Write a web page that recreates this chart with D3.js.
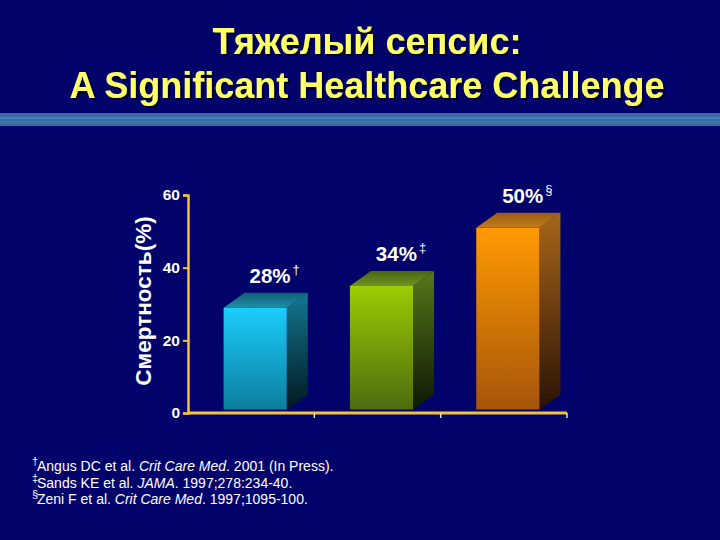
<!DOCTYPE html>
<html>
<head>
<meta charset="utf-8">
<script src="https://cdn.jsdelivr.net/npm/d3@7"></script>
<style>
  html, body { margin: 0; padding: 0; background: #02026b; }
  svg { display: block; font-family: "Liberation Sans", Arial, sans-serif; }
</style>
</head>
<body>
<div id="chart"></div>
<script>
const width = 720
const height = 540

// data
const categories = ['Angus', 'Sands', 'Zeni']
const values = [28, 34, 50]
const marks = ['\u2020', '\u2021', '\u00a7']
const yTicks = [0, 20, 40, 60]
const titleLines = ['Тяжелый сепсис:', 'A Significant Healthcare Challenge']
const yLabel = 'Смертность(%)'
const refs = [
  { mark: '\u2020', parts: [['Angus DC et al. ', false], ['Crit Care Med', true], ['. 2001 (In Press).', false]] },
  { mark: '\u2021', parts: [['Sands KE et al. ', false], ['JAMA', true], ['. 1997;278:234-40.', false]] },
  { mark: '\u00a7', parts: [['Zeni F et al. ', false], ['Crit Care Med', true], ['. 1997;1095-100.', false]] }
]

// bar colours: front top/bottom, side top/bottom, top face front/back
const palette = [
  { front: ['#1ccdfb', '#0b7d9e'], side: ['#137891', '#021820'], top: ['#1f8ea8', '#0f5f75'] },
  { front: ['#9ccc04', '#4c6c0e'], side: ['#55781a', '#0e1804'], top: ['#6f9322', '#4a6612'] },
  { front: ['#ff9a02', '#a5550a'], side: ['#a8661a', '#2a1304'], top: ['#c47c1c', '#9a5e12'] }
]

const axisColor = '#f2c23c'
const depthX = 21
const depthY = -15
const frontX = 4
const frontY = -3.5

const svg = d3.select('#chart')
  .append('svg')
  .attr('width', width)
  .attr('height', height)

svg.append('rect')
  .attr('width', width)
  .attr('height', height)
  .attr('fill', '#02026b')

const defs = svg.append('defs')
defs.append('filter')
  .attr('id', 'shadow')
  .append('feDropShadow')
  .attr('dx', 2).attr('dy', 2)
  .attr('stdDeviation', 0.6)
  .attr('flood-color', '#000018')
  .attr('flood-opacity', 0.9)

// title
svg.append('g')
  .attr('filter', 'url(#shadow)')
  .selectAll('text')
  .data(titleLines)
  .enter()
  .append('text')
  .attr('x', 367)
  .attr('y', (d, i) => 54 + i * 44)
  .attr('text-anchor', 'middle')
  .attr('font-size', 36)
  .attr('font-weight', 'bold')
  .attr('fill', '#ffff66')
  .text((d) => d)

// stripe under title
svg.append('rect').attr('x', 0).attr('y', 113).attr('width', width).attr('height', 13).attr('fill', '#3a68a8')
svg.append('rect').attr('x', 0).attr('y', 117).attr('width', width).attr('height', 2).attr('fill', '#4a82b8')
svg.append('rect').attr('x', 0).attr('y', 121).attr('width', width).attr('height', 2).attr('fill', '#3a7aa0')

// scales
const x = d3.scaleBand()
  .domain(categories)
  .range([188, 567])
  .paddingInner(0.5)
  .paddingOuter(0.25)

const y = d3.scaleLinear()
  .domain([0, 60])
  .range([413, 195])

palette.forEach((p, i) => {
  const grads = [
    ['front', p.front, 0, 0, 0, 1],
    ['side', p.side, 0, 0, 0, 1],
    ['top', p.top, 0, 1, 0, 0]
  ]
  grads.forEach(([name, cols, x1, y1, x2, y2]) => {
    const g = defs.append('linearGradient')
      .attr('id', `${name}${i}`)
      .attr('x1', x1).attr('y1', y1).attr('x2', x2).attr('y2', y2)
    g.append('stop').attr('offset', 0).attr('stop-color', cols[0])
    g.append('stop').attr('offset', 1).attr('stop-color', cols[1])
  })
})

// bars
const bars = svg.append('g')
  .selectAll('g')
  .data(values)
  .enter()
  .append('g')

const fx = (d, i) => x(categories[i]) + frontX
const fyTop = (d) => y(d) + frontY
const fyBot = y(0) + frontY
const bw = x.bandwidth()

bars.append('path')
  .attr('fill', (d, i) => `url(#side${i})`)
  .attr('d', (d, i) => {
    const x0 = fx(d, i) + bw
    return `M${x0},${fyTop(d)}L${x0 + depthX},${fyTop(d) + depthY}L${x0 + depthX},${fyBot + depthY}L${x0},${fyBot}Z`
  })

bars.append('path')
  .attr('fill', (d, i) => `url(#top${i})`)
  .attr('d', (d, i) => {
    const x0 = fx(d, i)
    const t = fyTop(d)
    return `M${x0},${t}L${x0 + depthX},${t + depthY}L${x0 + bw + depthX},${t + depthY}L${x0 + bw},${t}Z`
  })

bars.append('rect')
  .attr('x', fx)
  .attr('y', fyTop)
  .attr('width', bw)
  .attr('height', (d) => fyBot - fyTop(d))
  .attr('fill', (d, i) => `url(#front${i})`)

// value labels
const labels = bars.append('text')
  .attr('x', (d, i) => fx(d, i) + (bw + depthX) / 2 + 9)
  .attr('y', (d) => fyTop(d) + depthY - 10)
  .attr('text-anchor', 'middle')
  .attr('fill', '#ffffff')
  .attr('font-size', 20.5)
  .attr('font-weight', 'bold')

labels.append('tspan').text((d) => `${d}%`)
labels.append('tspan')
  .attr('font-size', 13)
  .attr('font-weight', 'normal')
  .attr('dx', 2)
  .attr('dy', -9)
  .text((d, i) => marks[i])

// axes
const yAxis = svg.append('g')
  .attr('transform', 'translate(188,0)')
  .call(d3.axisLeft(y).tickValues(yTicks).tickSize(5).tickPadding(3))
yAxis.select('.domain').attr('stroke', axisColor).attr('stroke-width', 2.5)
yAxis.selectAll('.tick line').attr('stroke', axisColor).attr('stroke-width', 2)
yAxis.selectAll('.tick text')
  .attr('fill', '#ffffff')
  .attr('font-size', 15.5)
  .attr('font-weight', 'bold')
  .attr('font-family', '"Liberation Sans", Arial, sans-serif')

const step = x.step()
const bounds = categories.map((c) => x(c) + bw + step * x.paddingInner() / 2)
const xAxis = svg.append('g')
xAxis.append('line')
  .attr('x1', 188).attr('x2', 567)
  .attr('y1', y(0)).attr('y2', y(0))
  .attr('stroke', axisColor).attr('stroke-width', 3)
xAxis.selectAll('line.tick')
  .data(bounds)
  .enter()
  .append('line')
  .attr('class', 'tick')
  .attr('x1', (d) => d).attr('x2', (d) => d)
  .attr('y1', y(0)).attr('y2', y(0) + 5)
  .attr('stroke', '#e8e0c0').attr('stroke-width', 1.5)

// y label
svg.append('text')
  .attr('transform', 'translate(151,301) rotate(-90)')
  .attr('text-anchor', 'middle')
  .attr('fill', '#ffffff')
  .attr('font-size', 22.5)
  .attr('font-weight', 'bold')
  .text(yLabel)

// references
const refG = svg.append('g')
refs.forEach((r, i) => {
  const ry = 471 + i * 16.5
  refG.append('text')
    .attr('x', 32).attr('y', ry - 6)
    .attr('fill', '#ffffff').attr('font-size', 11)
    .text(r.mark)
  const t = refG.append('text')
    .attr('x', 37).attr('y', ry)
    .attr('fill', '#ffffff').attr('font-size', 14)
  r.parts.forEach(([s, it]) => {
    t.append('tspan').attr('font-style', it ? 'italic' : 'normal').text(s)
  })
})
</script>
</body>
</html>
